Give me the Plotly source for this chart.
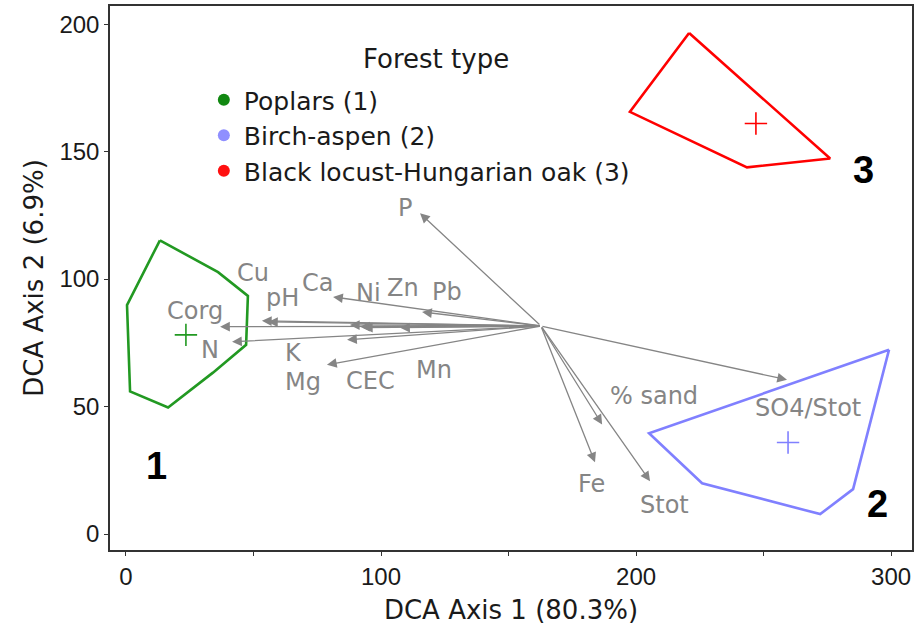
import plotly.graph_objects as go

# ---- data ----
group_names = ["Poplars (1)", "Birch-aspen (2)", "Black locust-Hungarian oak (3)"]
group_colors = ["#229922", "#8080ff", "#ff0000"]
legend_colors = ["#118811", "#8f8fff", "#ff1010"]
group_labels = ["1", "2", "3"]
legend_title = "Forest type"

hull1_x = [13.3, 36.1, 47.8, 47.1, 34.1, 16.5, 1.6, 0.4, 13.3]
hull1_y = [115.2, 102.7, 93.4, 74.2, 63.3, 49.6, 55.9, 89.8, 115.2]
hull2_x = [299.2, 285.1, 272.2, 225.9, 205.1, 299.2]
hull2_y = [72.3, 17.6, 7.8, 19.9, 39.5, 72.3]
hull3_x = [220.8, 276.1, 243.5, 197.6, 220.8]
hull3_y = [196.5, 147.3, 143.8, 165.6, 196.5]

centroid_x = [23.5, 259.6, 247.0]
centroid_y = [78.1, 35.9, 161.0]
group_label_x = [12.0, 294.5, 289.0]
group_label_y = [26.6, 11.7, 142.6]

origin = (162.7, 81.6)
vars_names = ["P", "Cu", "Ca", "Ni", "Zn", "Pb", "pH", "Corg", "N", "K",
              "Mg", "CEC", "Mn", "% sand", "Fe", "Stot", "SO4/Stot"]
tip_x = [115.3, 53.3, 87.8, 81.2, 107.5, 116.1, 55.7, 36.9, 41.6, 86.7,
         78.8, 91.8, 92.9, 186.7, 183.9, 205.5, 259.2]
tip_y = [125.8, 83.6, 82.0, 93.0, 80.9, 87.1, 83.2, 81.3, 75.4, 76.2,
         66.4, 81.3, 80.9, 43.0, 28.1, 20.7, 60.5]
lab_x = [109.4, 49.8, 74.9, 94.9, 108.6, 125.9, 61.2, 27.1, 32.9, 65.5,
         69.4, 95.7, 120.8, 207.1, 182.7, 211.0, 267.5]
lab_y = [127.7, 102.3, 98.4, 94.5, 96.5, 94.9, 92.6, 87.5, 72.3, 71.1,
         59.8, 60.2, 64.5, 54.3, 19.5, 11.3, 49.6]

x_tickvals = [0, 50, 100, 150, 200, 250, 300]
x_ticktext = ["0", "", "100", "", "200", "", "300"]
y_tickvals = [0, 50, 100, 150, 200]

FONT = "DejaVu Sans, Verdana, sans-serif"
TICKFONT = "Liberation Sans, Arial, Helvetica, sans-serif"
GRAY = "#858585"
DARK = "#1a1a1a"

fig = go.Figure()

hulls = [(hull1_x, hull1_y), (hull2_x, hull2_y), (hull3_x, hull3_y)]
for i, (hx, hy) in enumerate(hulls):
    fig.add_trace(go.Scatter(x=hx, y=hy, mode="lines",
                             line=dict(color=group_colors[i], width=2.6),
                             showlegend=False, hoverinfo="skip"))
    fig.add_trace(go.Scatter(x=[centroid_x[i]], y=[centroid_y[i]], mode="markers",
                             marker=dict(symbol="cross-thin", size=16,
                                         line=dict(color=group_colors[i], width=1.6)),
                             showlegend=False, hoverinfo="skip"))

# legend entries
for i in range(3):
    fig.add_trace(go.Scatter(x=[None], y=[None], mode="markers", name=group_names[i],
                             marker=dict(symbol="circle", size=12, color=legend_colors[i])))

annotations = []
for i, v in enumerate(vars_names):
    annotations.append(dict(x=tip_x[i], y=tip_y[i], ax=origin[0], ay=origin[1],
                            xref="x", yref="y", axref="x", ayref="y",
                            text="", showarrow=True, arrowhead=2, arrowsize=1.5,
                            arrowwidth=1.3, arrowcolor=GRAY, standoff=0))
    annotations.append(dict(x=lab_x[i], y=lab_y[i], xref="x", yref="y", text=v,
                            showarrow=False, font=dict(family=FONT, size=24, color=GRAY)))

for i in range(3):
    annotations.append(dict(x=group_label_x[i], y=group_label_y[i], xref="x", yref="y",
                            text="<b>%s</b>" % group_labels[i], showarrow=False,
                            font=dict(family=TICKFONT, size=38, color="black")))

# legend title as a centered text above the legend entries
annotations.append(dict(x=(436 - 110) / 802, y=1 - (59 - 6) / 544, xref="paper", yref="paper",
                        text=legend_title, showarrow=False, xanchor="center", yanchor="middle",
                        font=dict(family=FONT, size=26, color=DARK)))

fig.update_layout(
    width=914, height=640,
    margin=dict(l=110, r=2, t=6, b=90),
    paper_bgcolor="white", plot_bgcolor="white",
    font=dict(family=FONT, size=24, color=DARK),
    showlegend=True,
    legend=dict(x=0.117, y=1 - (77 - 6) / 544, xanchor="left", yanchor="top",
                bgcolor="rgba(0,0,0,0)",
                font=dict(family=FONT, size=25, color=DARK),
                itemwidth=30, tracegroupgap=0),
    annotations=annotations,
    xaxis=dict(range=[-6.27, 308.2], tickvals=x_tickvals, ticktext=x_ticktext,
               ticks="outside", ticklen=4, tickwidth=1.2, tickcolor="#333",
               showline=True, linecolor="#333", linewidth=1.5, mirror=True,
               showgrid=False, zeroline=False, automargin=False,
               tickfont=dict(family=TICKFONT, size=24, color=DARK),
               title=dict(text="DCA Axis 1 (80.3%)", standoff=12,
                          font=dict(family=FONT, size=26, color=DARK))),
    yaxis=dict(range=[-6.27, 207.1], tickvals=y_tickvals,
               ticks="outside", ticklen=4, tickwidth=1.2, tickcolor="#333",
               showline=True, linecolor="#333", linewidth=1.5, mirror=True,
               showgrid=False, zeroline=False, automargin=False,
               tickfont=dict(family=TICKFONT, size=24, color=DARK),
               title=dict(text="DCA Axis 2 (6.9%)", standoff=8,
                          font=dict(family=FONT, size=26, color=DARK))),
)

fig.write_html("out.html", config={"displayModeBar": False},
               post_script="document.body.style.margin='0px';document.body.style.overflow='hidden';")
